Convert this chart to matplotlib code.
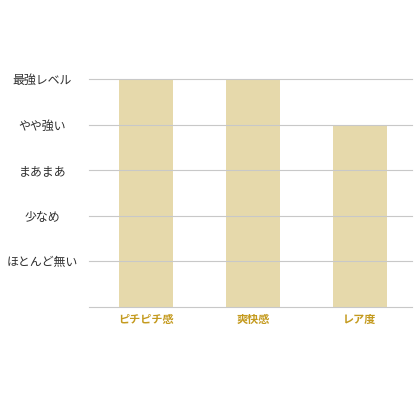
import matplotlib
matplotlib.use("Agg")
import matplotlib.pyplot as plt

plt.rcParams['font.family'] = ['Noto Sans CJK JP', 'DejaVu Sans']

categories = ["ピチピチ感", "爽快感", "レア度"]
values = [5, 5, 4]
level_labels = ["ほとんど無い", "少なめ", "まあまあ", "やや強い", "最強レベル"]
level_values = [1, 2, 3, 4, 5]

fig = plt.figure(figsize=(4.2, 4.2), dpi=100)
left_px, right_px = 92.5, 413.5
ax = fig.add_axes([left_px/420, 1-307/420, (right_px-left_px)/420, (307-79)/420])

x = list(range(len(categories)))
ax.bar(x, values, width=0.5, color="#E6D9AB", zorder=1)

ax.set_xlim(-0.5, len(categories) - 0.5)
ax.set_ylim(0, 5)
ax.set_yticks(level_values)
ax.set_yticklabels(level_labels, ha="center", fontsize=8.6, color="#2e2e2e")
ax.tick_params(axis="y", length=0, pad=36)
ax.set_xticks(x)
ax.set_xticklabels(categories, fontsize=8, fontweight="bold", color="#C49A1E")
ax.tick_params(axis="x", length=0, pad=4)

for y in [0] + level_values:
    ax.plot([-0.53, len(categories) - 0.515], [y, y], color="#C8C8C8",
            linewidth=0.8, zorder=2, clip_on=False)

for s in ax.spines.values():
    s.set_visible(False)

fig.savefig("out.png", dpi=100)
